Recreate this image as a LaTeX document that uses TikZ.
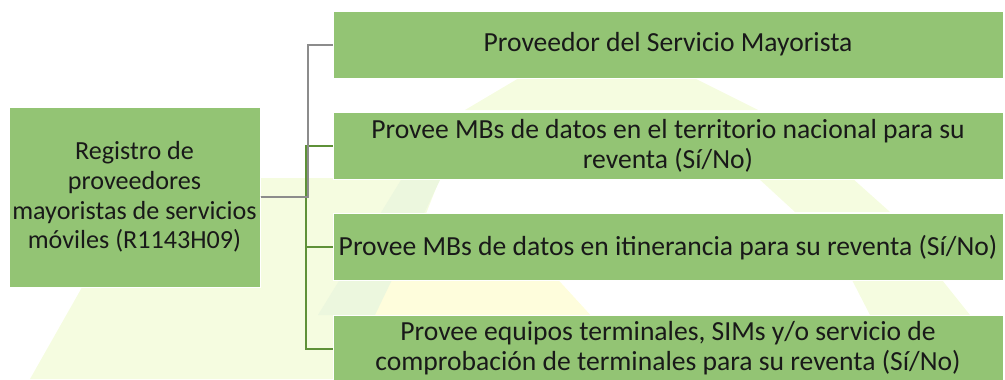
\documentclass[tikz,border=0pt]{standalone}
\usepackage{fontspec}
\setmainfont{Carlito}
\usepackage{tikz}
\usetikzlibrary{positioning}

\definecolor{boxgreen}{RGB}{147,196,116}
\definecolor{linegreen}{RGB}{94,145,56}
\definecolor{linegray}{RGB}{140,140,140}
\definecolor{markgreen}{RGB}{245,252,224}
\definecolor{markdeep}{RGB}{236,247,222}
\definecolor{markyellow}{RGB}{254,253,220}

\begin{document}
\begin{tikzpicture}[x=0.75pt,y=-0.75pt,node distance=76pt,
                    root node/.style={rectangle,fill=boxgreen,draw=white,line width=0.75pt,
                      minimum width=188.25pt,minimum height=135pt,inner sep=0pt,align=center,
                      text=black!90,font=\fontsize{19.6}{22.2}\selectfont},
                    leaf node/.style={root node,minimum width=502.5pt,minimum height=50.25pt,
                      font=\fontsize{20.7}{22.5}\selectfont},
                    gray line/.style={draw=linegray,line width=1.5pt},
                    green line/.style={draw=linegreen,line width=1.5pt}]
\useasboundingbox (0,0) rectangle (1005,379);

% Faint logo behind the diagram
\fill[markgreen] (144,178) -- (440,178) -- (400,280) -- (370,379) -- (30,379) -- cycle;
\fill[markyellow] (390,260) -- (540,260) -- (595,320) -- (370,320) -- cycle;
\fill[markdeep] (401,180) -- (440,180) -- (375,315) -- (318,315) -- cycle;
\fill[markgreen] (519,78) -- (694,78) -- (758,110) -- (465,110) -- cycle;
\fill[markgreen] (758,178) -- (852,178) -- (890,212) -- (795,212) -- cycle;
\fill[markgreen] (852,280) -- (942,280) -- (970,315) -- (870,315) -- cycle;

% Create nodes for the diagram
\node[root node] (registry) at (134.5,197) {Registro de\\proveedores\\mayoristas de servicios\\móviles (R1143H09)};
\node[leaf node] (provider) at (668,44.5) {Proveedor del Servicio Mayorista};
\node[leaf node] (national) [below of=provider] {Provee MBs de datos en el territorio nacional para su\\reventa (Sí/No)};
\node[leaf node] (roaming) [below of=national] {Provee MBs de datos en itinerancia para su reventa (Sí/No)};
\node[leaf node] (terminals) [below of=roaming] {Provee equipos terminales, SIMs y/o servicio de\\comprobación de terminales para su reventa (Sí/No)};

% Create edges for the diagram
\draw[green line] (registry.east) -- ++(45.5,0) |- (national.west);
\draw[green line] (registry.east) -- ++(45.5,0) |- (roaming.west);
\draw[green line] (registry.east) -- ++(45.5,0) |- (terminals.west);
\draw[gray line] (registry.east) -- ++(47,0) |- (provider.west);
\end{tikzpicture}
\end{document}
